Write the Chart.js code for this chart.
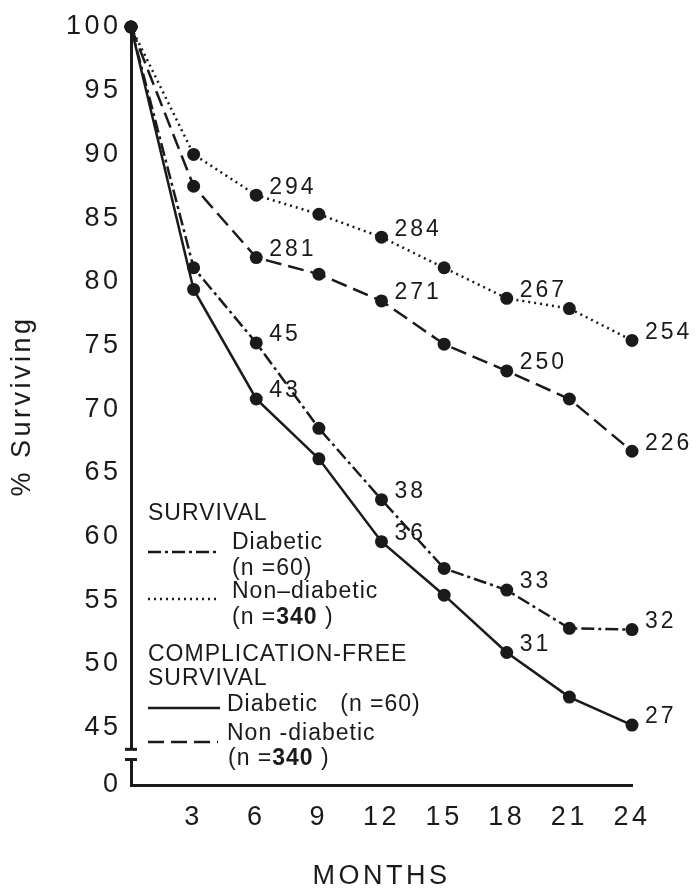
<!DOCTYPE html>
<html>
<head>
<meta charset="utf-8">
<script src="https://cdn.jsdelivr.net/npm/chart.js@4.4.1/dist/chart.umd.min.js"></script>
<style>
    html, body { margin: 0; padding: 0; background: #fff; }
    #chart { display: block; }
</style>
</head>
<body>
<canvas id="chart" width="699" height="894"></canvas>
<script>
// Meses de seguimiento
const meses = [0, 3, 6, 9, 12, 15, 18, 21, 24];

// % de supervivencia por grupo
const supervivenciaDiab = [100, 81.1, 75.2, 68.5, 62.9, 57.5, 55.8, 52.8, 52.7];
const supervivenciaNoDiab = [100, 90.0, 86.8, 85.3, 83.5, 81.1, 78.7, 77.9, 75.4];
const libreComplDiab = [100, 79.4, 70.8, 66.1, 59.6, 55.4, 50.9, 47.4, 45.2];
const libreComplNoDiab = [100, 87.5, 81.9, 80.6, 78.5, 75.1, 73.0, 70.8, 66.7];

// Pacientes en riesgo (null = sin etiqueta)
const riesgoSupDiab = [null, null, 45, null, 38, null, 33, null, 32];
const riesgoSupNoDiab = [null, null, 294, null, 284, null, 267, null, 254];
const riesgoLibreDiab = [null, null, 43, null, 36, null, 31, null, 27];
const riesgoLibreNoDiab = [null, null, 281, null, 271, null, 250, null, 226];

// Ticks de los ejes (el eje Y está cortado entre 45 y 0)
const ticksY = [100, 95, 90, 85, 80, 75, 70, 65, 60, 55, 50, 45];
const etiquetaCero = '0';
const ticksX = [3, 6, 9, 12, 15, 18, 21, 24];

const FUENTE = '"Liberation Sans", Arial, Helvetica, sans-serif';
const NEGRO = '#1a1a1a';
const Y_MIN = 40.5;

const DASH_PUNTO = [13, 4, 3, 4];
const PUNTEADO = [2, 4];
const GUIONES = [16, 7];

function serie(valores, riesgo, dash) {
    return {
        data: meses.map((m, i) => ({ x: m, y: valores[i] })),
        riesgo: riesgo,
        borderColor: NEGRO,
        backgroundColor: NEGRO,
        borderWidth: 2.5,
        borderDash: dash,
        pointRadius: 6.5,
        pointBorderWidth: 0,
        pointBackgroundColor: NEGRO,
        tension: 0,
        clip: false
    };
}

// Espaciado entre letras para todo el texto del canvas
const espaciado = {
    id: 'espaciado',
    beforeDraw(chart) {
        chart.ctx.letterSpacing = '3.5px';
    }
};

// Números de pacientes junto a los puntos
const etiquetasRiesgo = {
    id: 'etiquetasRiesgo',
    afterDatasetsDraw(chart) {
        const ctx = chart.ctx;
        ctx.save();
        ctx.letterSpacing = '3px';
        ctx.font = '23px ' + FUENTE;
        ctx.fillStyle = NEGRO;
        ctx.textAlign = 'left';
        ctx.textBaseline = 'middle';
        chart.data.datasets.forEach((ds, d) => {
            const meta = chart.getDatasetMeta(d);
            ds.riesgo.forEach((n, i) => {
                if (n === null) return;
                const p = meta.data[i];
                ctx.fillText(String(n), p.x + 13, p.y - 8);
            });
        });
        ctx.restore();
    }
};

// Corte del eje Y y leyenda
const decoracion = {
    id: 'decoracion',
    afterDraw(chart) {
        const ctx = chart.ctx;
        const area = chart.chartArea;
        const yScale = chart.scales.y;
        const x0 = area.left;

        // corte del eje
        const yA = yScale.getPixelForValue(43.3);
        const yB = yScale.getPixelForValue(42.5);
        ctx.save();
        ctx.fillStyle = '#fff';
        ctx.fillRect(x0 - 3, yA, 6, yB - yA);
        ctx.fillStyle = NEGRO;
        ctx.fillRect(x0 - 6, yA - 1.5, 12, 3);
        ctx.fillRect(x0 - 6, yB - 1.5, 12, 3);

        // leyenda
        const lx = x0 + 17;
        const normal = '23px ' + FUENTE;
        const negrita = 'bold 23px ' + FUENTE;
        ctx.font = normal;
        ctx.letterSpacing = '1px';
        ctx.textAlign = 'left';
        ctx.textBaseline = 'middle';

        const muestra = (y, dash, largo) => {
            ctx.beginPath();
            ctx.setLineDash(dash);
            ctx.lineWidth = 2.5;
            ctx.strokeStyle = NEGRO;
            ctx.moveTo(lx, y);
            ctx.lineTo(lx + largo, y);
            ctx.stroke();
        };

        // "(n =340 )" con el número en negrita
        const n340 = (x, y) => {
            ctx.font = normal;
            ctx.fillText('(n =', x, y);
            x += ctx.measureText('(n =').width;
            ctx.font = negrita;
            ctx.fillText('340', x, y);
            x += ctx.measureText('340').width;
            ctx.font = normal;
            ctx.fillText(' )', x, y);
        };

        ctx.fillText('SURVIVAL', lx, 514);
        muestra(552, DASH_PUNTO, 70);
        ctx.fillText('Diabetic', lx + 84, 543);
        ctx.fillText('(n =60)', lx + 84, 569);
        muestra(599, PUNTEADO, 70);
        ctx.fillText('Non\u2013diabetic', lx + 84, 592);
        n340(lx + 84, 618);

        ctx.fillText('COMPLICATION-FREE', lx, 655);
        ctx.fillText('SURVIVAL', lx, 679);
        muestra(708, [], 72);
        ctx.fillText('Diabetic   (n =60)', lx + 79, 705);
        muestra(742, GUIONES, 70);
        ctx.fillText('Non -diabetic', lx + 79, 734);
        n340(lx + 80, 759);
        ctx.restore();
    }
};

const ctx = document.getElementById('chart').getContext('2d');

new Chart(ctx, {
    type: 'line',
    data: {
        datasets: [
            serie(libreComplDiab, riesgoLibreDiab, []),
            serie(libreComplNoDiab, riesgoLibreNoDiab, GUIONES),
            serie(supervivenciaDiab, riesgoSupDiab, DASH_PUNTO),
            serie(supervivenciaNoDiab, riesgoSupNoDiab, PUNTEADO)
        ]
    },
    options: {
        responsive: false,
        animation: false,
        devicePixelRatio: 1,
        layout: { padding: { top: 27, right: 67, bottom: 0, left: 0 } },
        plugins: {
            legend: { display: false },
            tooltip: { enabled: false }
        },
        scales: {
            x: {
                type: 'linear',
                min: 0,
                max: 24,
                afterBuildTicks: (scale) => {
                    scale.ticks = ticksX.map(v => ({ value: v }));
                },
                afterFit: (scale) => { scale.height = 109; },
                grid: { display: false, drawTicks: false },
                border: { color: NEGRO, width: 3 },
                ticks: {
                    color: NEGRO,
                    padding: 16,
                    maxRotation: 0,
                    autoSkip: false,
                    font: { family: FUENTE, size: 27 }
                },
                title: {
                    display: true,
                    text: 'MONTHS',
                    color: NEGRO,
                    padding: { top: 0, bottom: 1 },
                    font: { family: FUENTE, size: 27 }
                }
            },
            y: {
                type: 'linear',
                min: Y_MIN,
                max: 100,
                afterBuildTicks: (scale) => {
                    scale.ticks = [Y_MIN].concat(ticksY.slice().reverse()).map(v => ({ value: v }));
                },
                afterFit: (scale) => { scale.width = 131; },
                grid: { display: false, drawTicks: false },
                border: { color: NEGRO, width: 3 },
                ticks: {
                    color: NEGRO,
                    padding: 9.5,
                    autoSkip: false,
                    font: { family: FUENTE, size: 27 },
                    callback: (v) => (v < 45 ? etiquetaCero : v)
                },
                title: {
                    display: true,
                    text: '% Surviving',
                    color: NEGRO,
                    padding: { top: 6, bottom: 0 },
                    font: { family: FUENTE, size: 27 }
                }
            }
        }
    },
    plugins: [espaciado, etiquetasRiesgo, decoracion]
});
</script>
</body>
</html>
